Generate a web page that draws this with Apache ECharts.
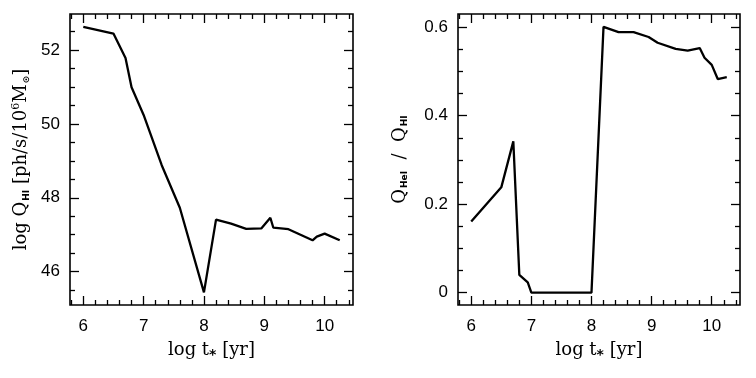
<!DOCTYPE html>
<html>
<head>
<meta charset="utf-8">
<script src="https://cdn.jsdelivr.net/npm/echarts@6/dist/echarts.min.js"></script>
<style>
  html, body { margin: 0; padding: 0; background: #fff; }
  #chart { width: 756px; height: 378px; }
</style>
</head>
<body>
<div id="chart"></div>
<script>
// left panel: log Q_HI vs log t
const leftT = [6.0, 6.5, 6.7, 6.8, 7.0, 7.3, 7.6, 8.0, 8.2, 8.45, 8.7, 8.95, 9.1, 9.15, 9.4, 9.8, 9.87, 10.0, 10.25]
const leftQ = [52.62, 52.44, 51.78, 50.99, 50.24, 48.88, 47.73, 45.44, 47.41, 47.3, 47.16, 47.17, 47.46, 47.19, 47.15, 46.85, 46.95, 47.03, 46.85]
// right panel: Q_HeI / Q_HI vs log t
const rightT = [6.0, 6.5, 6.7, 6.8, 6.94, 7.0, 8.0, 8.2, 8.45, 8.7, 8.95, 9.1, 9.4, 9.6, 9.8, 9.88, 10.0, 10.1, 10.25]
const rightR = [0.161, 0.238, 0.342, 0.040, 0.023, 0.0, 0.0, 0.601, 0.589, 0.589, 0.578, 0.565, 0.551, 0.547, 0.553, 0.531, 0.515, 0.483, 0.487]

// tick labels
const xMajor = [6, 7, 8, 9, 10]
const leftYMajor = [46, 48, 50, 52]
const rightYMajor = [0, 0.2, 0.4, 0.6]

// minor tick positions (axis decoration only)
function steps (from, to, step, skip) {
  const out = []
  for (let i = 0; from + i * step <= to + 1e-9; i++) {
    const v = +(from + i * step).toFixed(4)
    if (!skip.some(s => Math.abs(s - v) < 1e-6)) out.push(v)
  }
  return out
}
const xMinor = steps(5.8, 10.4, 0.2, xMajor)
const leftYMinor = steps(45.5, 52.5, 0.5, leftYMajor)
const rightYMinor = steps(0, 0.6, 0.05, rightYMajor)

const tickFont = 'Liberation Sans, Arial, sans-serif'
const nameFont = 'DejaVu Serif, serif'

const rich = {
  n: { fontFamily: nameFont, fontSize: 18, color: '#000' },
  sub: { fontFamily: 'DejaVu Sans, sans-serif', fontWeight: 'bold', fontSize: 9, color: '#000', verticalAlign: 'bottom', padding: [9, 0, 0, 1] },
  star: { fontFamily: 'DejaVu Sans, sans-serif', fontWeight: 'bold', fontSize: 14, color: '#000', verticalAlign: 'bottom', padding: [10, 0, 0, 0] },
  sup: { fontFamily: nameFont, fontSize: 11, color: '#000', verticalAlign: 'top', padding: [0, 0, 9, 0] }
}

// one axis = one set of ticks (major or minor) on one side
function makeAxis (dim, grid, pos, min, max, values, len, labels, name, nameGap) {
  const ax = {
    type: 'value',
    gridIndex: grid,
    position: pos,
    min: min,
    max: max,
    axisLine: { show: false, onZero: false },
    splitLine: { show: false },
    axisTick: {
      show: true,
      inside: true,
      length: len,
      customValues: values,
      lineStyle: { color: '#000', width: 1.3 }
    },
    axisLabel: labels ? {
      show: true,
      customValues: values,
      margin: dim === 'x' ? 13 : 10,
      color: '#000',
      fontFamily: tickFont,
      fontSize: 17
    } : { show: false }
  }
  if (name) {
    ax.name = name
    ax.nameLocation = 'middle'
    ax.nameGap = nameGap
    ax.nameTextStyle = { rich: rich }
    if (dim === 'y') ax.nameRotate = 90
  }
  return ax
}

const xName = '{n|log t}{star|*}{n| [yr]}'
const leftYName = '{n|log Q}{sub|HI}{n| [ph/s/10}{sup|6}{n|M}{sub|⊙}{n|]}'
const rightYName = '{n|Q}{sub|HeI}{n|  /  Q}{sub|HI}'

function panelAxes (grid, yMin, yMax, yMajor, yMinor, yName, yGap) {
  return {
    x: [
      makeAxis('x', grid, 'bottom', 5.78, 10.47, xMajor, 9, true, xName, 33),
      makeAxis('x', grid, 'bottom', 5.78, 10.47, xMinor, 5, false),
      makeAxis('x', grid, 'top', 5.78, 10.47, xMajor, 9, false),
      makeAxis('x', grid, 'top', 5.78, 10.47, xMinor, 5, false)
    ],
    y: [
      makeAxis('y', grid, 'left', yMin, yMax, yMajor, 9, true, yName, yGap),
      makeAxis('y', grid, 'left', yMin, yMax, yMinor, 5, false),
      makeAxis('y', grid, 'right', yMin, yMax, yMajor, 9, false),
      makeAxis('y', grid, 'right', yMin, yMax, yMinor, 5, false)
    ]
  }
}

const leftAxes = panelAxes(0, 45.1, 52.97, leftYMajor, leftYMinor, leftYName, 39)
const rightAxes = panelAxes(1, -0.028, 0.63, rightYMajor, rightYMinor, rightYName, 49)

const chart = echarts.init(document.getElementById('chart'), null, { renderer: 'canvas' })
chart.setOption({
  animation: false,
  backgroundColor: '#fff',
  grid: [
    { left: 70, top: 14, width: 283, height: 291, show: true, borderColor: '#000', borderWidth: 1.6, backgroundColor: 'transparent' },
    { left: 458, top: 14, width: 282, height: 291, show: true, borderColor: '#000', borderWidth: 1.6, backgroundColor: 'transparent' }
  ],
  xAxis: leftAxes.x.concat(rightAxes.x),
  yAxis: leftAxes.y.concat(rightAxes.y),
  series: [
    {
      type: 'line',
      xAxisIndex: 0,
      yAxisIndex: 0,
      data: leftT.map((t, i) => [t, leftQ[i]]),
      showSymbol: false,
      lineStyle: { color: '#000', width: 2.3 }
    },
    {
      type: 'line',
      xAxisIndex: 4,
      yAxisIndex: 4,
      data: rightT.map((t, i) => [t, rightR[i]]),
      showSymbol: false,
      lineStyle: { color: '#000', width: 2.3 }
    }
  ]
})
</script>
</body>
</html>
